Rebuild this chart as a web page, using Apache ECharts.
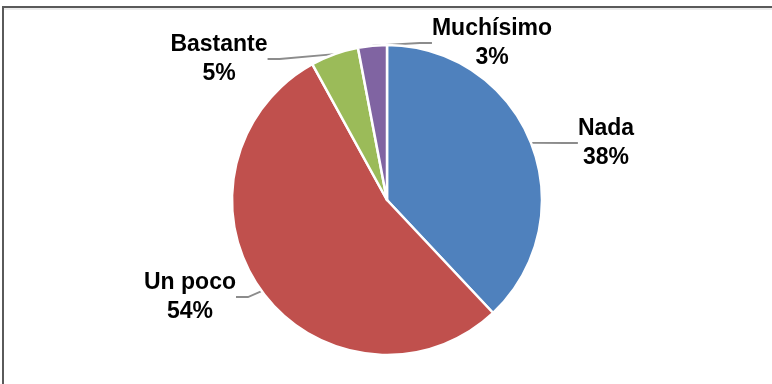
<!DOCTYPE html>
<html>
<head>
<meta charset="utf-8">
<script src="https://cdn.jsdelivr.net/npm/echarts@6/dist/echarts.min.js"></script>
<style>
  html, body { margin: 0; padding: 0; background: #ffffff; }
  #chart { width: 772px; height: 384px; }
</style>
</head>
<body>
<div id="chart"></div>
<script>
// Survey answers and their shares (percent)
const categories = ['Nada', 'Un poco', 'Bastante', 'Muchísimo'];
const shares = [38, 54, 5, 3];
const sliceColors = ['#4F81BD', '#C0504D', '#9BBB59', '#8064A2'];

// Centre points of each label block
const labelSpots = [
  [606, 143],
  [190, 297],
  [219, 59],
  [492, 43]
];

const chart = echarts.init(document.getElementById('chart'), null, { renderer: 'canvas' });

chart.setOption({
  animation: false,
  backgroundColor: '#ffffff',
  graphic: [
    { type: 'line', shape: { x1: 3, y1: 7, x2: 772, y2: 7 }, style: { stroke: '#5a5a5a', lineWidth: 2 } },
    { type: 'line', shape: { x1: 4, y1: 9, x2: 772, y2: 9 }, style: { stroke: '#d9d9d9', lineWidth: 1 } },
    { type: 'line', shape: { x1: 3, y1: 6, x2: 3, y2: 384 }, style: { stroke: '#5a5a5a', lineWidth: 2 } }
  ],
  series: [{
    type: 'pie',
    center: [387, 200],
    radius: [0, 155],
    startAngle: 90,
    clockwise: true,
    data: categories.map((name, i) => ({
      name: name,
      value: shares[i],
      itemStyle: { color: sliceColors[i] }
    })),
    itemStyle: { borderColor: '#ffffff', borderWidth: 2.5 },
    label: {
      show: true,
      position: 'outside',
      formatter: '{b}\n{c}%',
      fontFamily: 'Liberation Sans, Arial, sans-serif',
      fontWeight: 'bold',
      fontSize: 23,
      lineHeight: 29,
      color: '#000000',
      align: 'center'
    },
    labelLine: {
      show: true,
      length: 15,
      length2: 12,
      lineStyle: { color: '#8c8c8c', width: 1.8 }
    },
    labelLayout: function (params) {
      const p = labelSpots[params.dataIndex];
      return { x: p[0], y: p[1], align: 'center', verticalAlign: 'middle' };
    },
    emphasis: { disabled: true }
  }]
});
</script>
</body>
</html>
